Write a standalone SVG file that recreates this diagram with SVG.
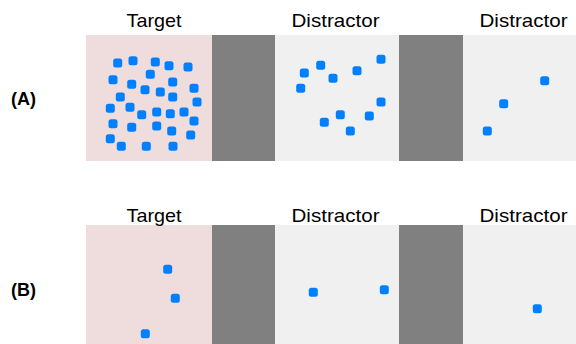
<svg xmlns="http://www.w3.org/2000/svg" xmlns:xlink="http://www.w3.org/1999/xlink" width="576" height="344" viewBox="0 0 576 344">
<style>
.lbl{font-family:"Liberation Sans",Arial,sans-serif;font-size:19px;fill:#000;text-anchor:middle}
.row{font-family:"Liberation Sans",Arial,sans-serif;font-size:18px;font-weight:bold;fill:#000;text-anchor:middle}
.tgt{fill:#EFDCDC}
.dis{fill:#F0F0F0}
.bar{fill:#808080}
.dot{fill:#0080FF}
</style>
<defs>
<rect id="d" class="dot" x="-4.5" y="-4.5" width="9" height="9" rx="2.5"/>
</defs>
<rect width="576" height="344" fill="#FFFFFF"/>
<g id="rowA">
<text class="row" x="23.5" y="105">(A)</text>
<g id="A-target">
<rect class="tgt" x="86" y="35" width="126" height="126"/>
<text class="lbl" x="154" y="27" textLength="55" lengthAdjust="spacingAndGlyphs">Target</text>
<use xlink:href="#d" x="117.7" y="63"/>
<use xlink:href="#d" x="133" y="60.7"/>
<use xlink:href="#d" x="155.3" y="62"/>
<use xlink:href="#d" x="169" y="65.7"/>
<use xlink:href="#d" x="188" y="67"/>
<use xlink:href="#d" x="113" y="79.7"/>
<use xlink:href="#d" x="131.7" y="84.3"/>
<use xlink:href="#d" x="150.3" y="74.3"/>
<use xlink:href="#d" x="172.7" y="82"/>
<use xlink:href="#d" x="145" y="89.7"/>
<use xlink:href="#d" x="160.3" y="92"/>
<use xlink:href="#d" x="194" y="88.3"/>
<use xlink:href="#d" x="120.3" y="97"/>
<use xlink:href="#d" x="172.7" y="97"/>
<use xlink:href="#d" x="197" y="102"/>
<use xlink:href="#d" x="110.3" y="108.3"/>
<use xlink:href="#d" x="130" y="107.3"/>
<use xlink:href="#d" x="141.7" y="114.7"/>
<use xlink:href="#d" x="156.7" y="112"/>
<use xlink:href="#d" x="170.3" y="113.7"/>
<use xlink:href="#d" x="184" y="112"/>
<use xlink:href="#d" x="113" y="123.7"/>
<use xlink:href="#d" x="131.7" y="127.3"/>
<use xlink:href="#d" x="156.7" y="126"/>
<use xlink:href="#d" x="171.7" y="131"/>
<use xlink:href="#d" x="194" y="121"/>
<use xlink:href="#d" x="110.3" y="138.7"/>
<use xlink:href="#d" x="121.3" y="146.3"/>
<use xlink:href="#d" x="146.3" y="146.3"/>
<use xlink:href="#d" x="173" y="146.3"/>
<use xlink:href="#d" x="190.7" y="135"/>
</g>
<rect class="bar" x="212" y="35" width="63" height="126"/>
<g id="A-distractor1">
<rect class="dis" x="275" y="35" width="124" height="126"/>
<text class="lbl" x="335.5" y="27" textLength="88" lengthAdjust="spacingAndGlyphs">Distractor</text>
<use xlink:href="#d" x="304.3" y="73"/>
<use xlink:href="#d" x="320.7" y="65.3"/>
<use xlink:href="#d" x="333" y="78.3"/>
<use xlink:href="#d" x="357" y="70.7"/>
<use xlink:href="#d" x="381" y="59.3"/>
<use xlink:href="#d" x="300.7" y="88.3"/>
<use xlink:href="#d" x="381" y="102"/>
<use xlink:href="#d" x="340.3" y="114.7"/>
<use xlink:href="#d" x="324.3" y="122.3"/>
<use xlink:href="#d" x="369.3" y="116"/>
<use xlink:href="#d" x="350.3" y="131"/>
</g>
<rect class="bar" x="399" y="35" width="64" height="126"/>
<g id="A-distractor2">
<rect class="dis" x="463" y="35" width="113" height="126"/>
<text class="lbl" x="523.5" y="27" textLength="88" lengthAdjust="spacingAndGlyphs">Distractor</text>
<use xlink:href="#d" x="544.7" y="80.7"/>
<use xlink:href="#d" x="503.7" y="103.7"/>
<use xlink:href="#d" x="487.3" y="131"/>
</g>
</g>
<g id="rowB">
<text class="row" x="23.5" y="296">(B)</text>
<g id="B-target">
<rect class="tgt" x="86" y="225" width="126" height="119"/>
<text class="lbl" x="154" y="222" textLength="55" lengthAdjust="spacingAndGlyphs">Target</text>
<use xlink:href="#d" x="167.7" y="269.3"/>
<use xlink:href="#d" x="175.3" y="298.3"/>
<use xlink:href="#d" x="145.3" y="333.7"/>
</g>
<rect class="bar" x="212" y="225" width="63" height="119"/>
<g id="B-distractor1">
<rect class="dis" x="275" y="225" width="124" height="119"/>
<text class="lbl" x="335.5" y="222" textLength="88" lengthAdjust="spacingAndGlyphs">Distractor</text>
<use xlink:href="#d" x="313.3" y="292.3"/>
<use xlink:href="#d" x="384.3" y="289.7"/>
</g>
<rect class="bar" x="399" y="225" width="64" height="119"/>
<g id="B-distractor2">
<rect class="dis" x="463" y="225" width="113" height="119"/>
<text class="lbl" x="523.5" y="222" textLength="88" lengthAdjust="spacingAndGlyphs">Distractor</text>
<use xlink:href="#d" x="537.3" y="308.7"/>
</g>
</g>
<g id="connectors"/>
</svg>
